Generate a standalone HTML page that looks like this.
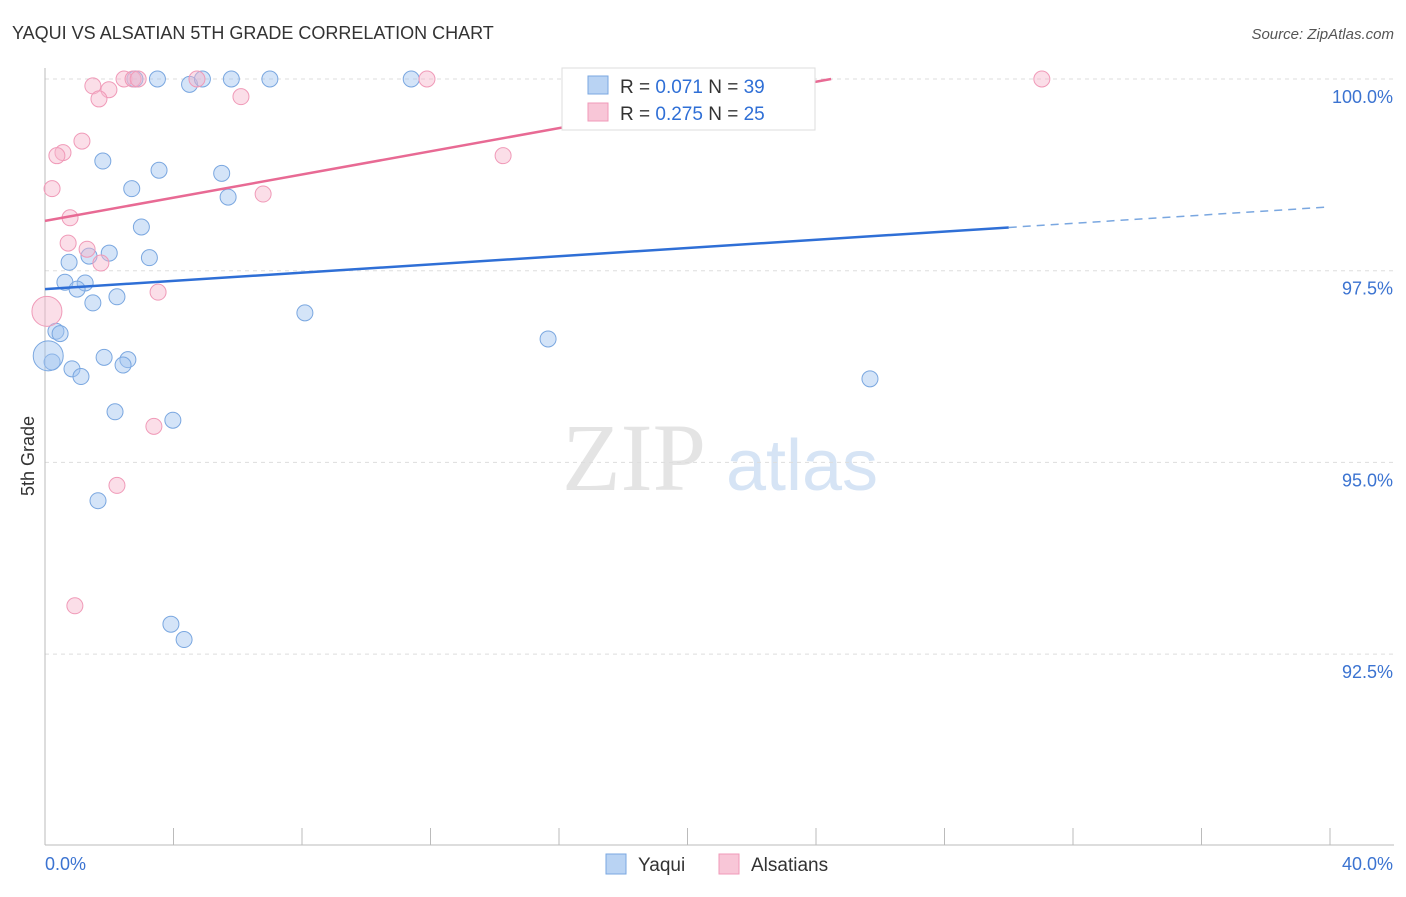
<!DOCTYPE html>
<html><head><meta charset="utf-8"><style>
body{margin:0;background:#fff;font-family:"Liberation Sans",sans-serif}
</style></head><body>
<svg width="1406" height="892" xmlns="http://www.w3.org/2000/svg" font-family="Liberation Sans, sans-serif">
<text x="12" y="39" font-size="18" fill="#333">YAQUI VS ALSATIAN 5TH GRADE CORRELATION CHART</text>
<text x="1394" y="39" font-size="15" fill="#555" font-style="italic" text-anchor="end">Source: ZipAtlas.com</text>
<text x="634" y="490" font-size="96" fill="#e4e4e4" font-family="Liberation Serif, serif" text-anchor="middle">ZIP</text>
<text x="802" y="490" font-size="72" fill="#d6e4f5" text-anchor="middle">atlas</text>
<g id="grid"></g><g id="axes"></g><g id="marks"></g>
<text transform="translate(34,456) rotate(-90)" font-size="18" fill="#333" text-anchor="middle">5th Grade</text>
<g>
<rect x="562" y="68" width="253" height="62" fill="#fff" stroke="#ddd"/>
<rect x="588" y="76" width="20" height="18" fill="#b9d3f3" stroke="#7aa7e0"/>
<rect x="588" y="103" width="20" height="18" fill="#f8c6d7" stroke="#f09ab8"/>
<text x="620" y="93" font-size="19" fill="#333">R = <tspan fill="#2f6fd6">0.071</tspan>   N = <tspan fill="#2f6fd6">39</tspan></text>
<text x="620" y="120" font-size="19" fill="#333">R = <tspan fill="#2f6fd6">0.275</tspan>   N = <tspan fill="#2f6fd6">25</tspan></text>
</g>
<g>
<rect x="606" y="854" width="20" height="20" fill="#b9d3f3" stroke="#7aa7e0"/>
<text x="638" y="871" font-size="19" fill="#333">Yaqui</text>
<rect x="719" y="854" width="20" height="20" fill="#f8c6d7" stroke="#f09ab8"/>
<text x="751" y="871" font-size="19" fill="#333">Alsatians</text>
</g>
</svg>
<script>
const yTicks=[100,97.5,95,92.5];
const yTickLabels=["100.0%","97.5%","95.0%","92.5%"];
const xTicks=[0,4,8,12,16,20,24,28,32,36,40];
const yaquiX=[3.5,4.5,4.9,5.8,7.0,11.4,1.8,3.55,5.5,2.7,5.7,3.0,2.0,3.25,1.37,0.75,0.62,1.25,1.0,2.24,1.49,8.09,0.34,0.47,15.66,0.22,0.1,0.84,1.12,1.84,2.58,2.43,25.68,2.18,3.98,1.65,3.92,4.33,2.8];
const yaquiY=[100,99.93,100,100,100,100,98.93,98.81,98.77,98.57,98.46,98.07,97.73,97.67,97.69,97.61,97.35,97.34,97.26,97.16,97.08,96.95,96.71,96.68,96.61,96.31,96.39,96.22,96.12,96.37,96.34,96.27,96.09,95.66,95.55,94.5,92.89,92.69,100];
const yaquiR=[8,8,8,8,8,8,8,8,8,8,8,8,8,8,8,8,8,8,8,8,8,8,8,8,8,8,15,8,8,8,8,8,8,8,8,8,8,8,8];
const alsX=[2.46,2.74,2.9,4.73,11.89,31.03,1.49,1.99,1.68,6.1,1.15,0.56,0.37,14.26,0.22,6.79,0.78,0.72,1.31,1.74,3.52,0.06,3.39,2.24,0.93];
const alsY=[100,100,100,100,100,100,99.91,99.86,99.74,99.77,99.19,99.04,99.0,99.0,98.57,98.5,98.19,97.86,97.78,97.6,97.22,96.97,95.47,94.7,93.13];
const alsR=[8,8,8,8,8,8,8,8,8,8,8,8,8,8,8,8,8,8,8,8,8,15,8,8,8];
const yaquiTrend=[97.26,0.0268];const alsTrend=[98.15,0.0756];
const X=v=>45+v*32.125, Y=v=>79+(100-v)*76.68;
const NS="http://www.w3.org/2000/svg";
function mk(t,a,p){const e=document.createElementNS(NS,t);for(const k in a)e.setAttribute(k,a[k]);document.getElementById(p).appendChild(e);return e;}
yTicks.forEach((t,i)=>{
 const l=mk('line',{x1:45,x2:1394,y1:Y(t),y2:Y(t),stroke:'#ddd','stroke-dasharray':'4,4'},'grid');
 
 
 const tx=mk('text',{x:1393,y:Y(t)+24,'font-size':18,fill:'#3b73d1','text-anchor':'end'},'axes');tx.textContent=yTickLabels[i];
 
 
});
const ax=mk('line',{x1:45,x2:45,y1:68,y2:845,stroke:'#bbb'},'axes');


const bx=mk('line',{x1:45,x2:1394,y1:845,y2:845,stroke:'#bbb'},'axes');


xTicks.forEach(t=>{const l=mk('line',{x1:X(t),x2:X(t),y1:828,y2:845,stroke:'#bbb'},'axes');
 
 });
[[0,"0.0%",'start',45],[40,"40.0%",'end',1393]].forEach(([v,s,a,x])=>{const t=mk('text',{x:x,y:870,'font-size':18,fill:'#3b73d1','text-anchor':a},'axes');t.textContent=s;
 
 });
function pts(xs,ys,rs,fill,stroke,name){xs.forEach((x,i)=>{const c=mk('circle',{cx:X(x),cy:Y(ys[i]),r:rs[i],fill:fill,stroke:stroke,'stroke-width':1},'marks');
 
 });}
pts(yaquiX,yaquiY,yaquiR,'rgba(160,196,240,0.45)','#7aa7e0','yaqui-point');
pts(alsX,alsY,alsR,'rgba(246,182,204,0.45)','#f09ab8','alsatian-point');
const yl=mk('line',{x1:X(0),y1:Y(yaquiTrend[0]),x2:X(30),y2:Y(yaquiTrend[0]+30*yaquiTrend[1]),stroke:'#2f6fd6','stroke-width':2.5},'marks');


const yd=mk('line',{x1:X(30),y1:Y(yaquiTrend[0]+30*yaquiTrend[1]),x2:X(40),y2:Y(yaquiTrend[0]+40*yaquiTrend[1]),stroke:'#7aa7e0','stroke-width':1.5,'stroke-dasharray':'8,6'},'marks');


const xe=Math.min(40,(100-alsTrend[0])/alsTrend[1]);
const pl=mk('line',{x1:X(0),y1:Y(alsTrend[0]),x2:X(xe),y2:Y(alsTrend[0]+xe*alsTrend[1]),stroke:'#e86a94','stroke-width':2.5},'marks');


</script>
</body></html>
